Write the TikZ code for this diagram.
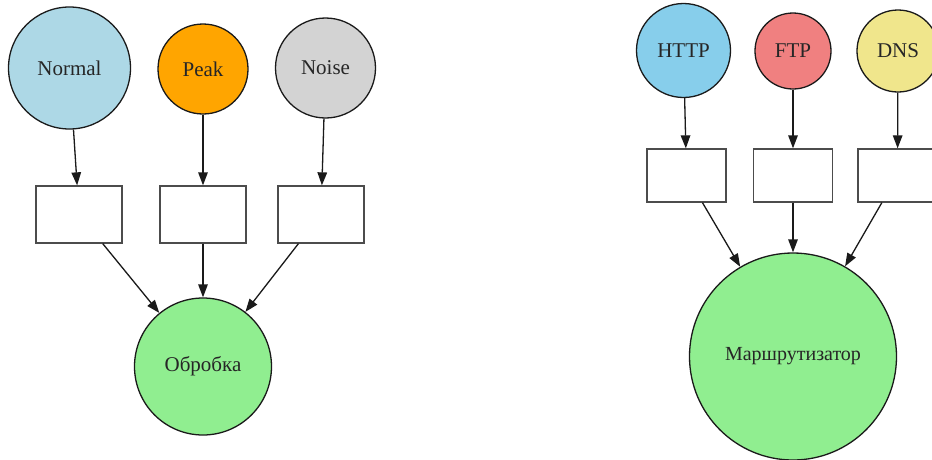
\documentclass[tikz,border=0pt]{standalone}
\usepackage{fontspec}
\setmainfont{Liberation Serif}
\usetikzlibrary{arrows.meta}

\definecolor{lightblueC}{HTML}{ADD8E6}
\definecolor{orangeC}{HTML}{FFA500}
\definecolor{lightgreyC}{HTML}{D3D3D3}
\definecolor{lightgreenC}{HTML}{90EE90}
\definecolor{skyblueC}{HTML}{87CEEB}
\definecolor{lightcoralC}{HTML}{F08080}
\definecolor{khakiC}{HTML}{F0E68C}
\definecolor{edgeC}{HTML}{1A1A1A}

\tikzset{
  circ/.style={circle, draw=edgeC, line width=1.3pt, inner sep=0pt,
               font=\fontsize{21}{21}\selectfont, text=black!85},
  emptybox/.style={rectangle, draw=black!70, line width=1.3pt, fill=white,
                   inner sep=0pt},
  flow/.style={-{Triangle[length=13pt,width=9.5pt]}, line width=1.3pt, draw=edgeC, fill=edgeC}
}

\begin{document}
\begin{tikzpicture}[x=1pt, y=-1pt]
  \useasboundingbox (0,0) rectangle (932,459);
  \clip (0,0) rectangle (932,459);

  % traffic sources feeding the processing node
  \node[circ, fill=lightblueC, minimum size=122pt] (normal) at (69.5,68) {Normal};
  \node[circ, fill=orangeC, minimum size=90pt] (peak) at (203,69) {Peak};
  \node[circ, fill=lightgreyC, minimum size=100pt] (noise) at (325.5,68) {Noise};

  \node[emptybox, minimum width=86pt, minimum height=57pt] (lb1) at (79,214.5) {};
  \node[emptybox, minimum width=86pt, minimum height=57pt] (lb2) at (203,214.5) {};
  \node[emptybox, minimum width=86pt, minimum height=57pt] (lb3) at (321,214.5) {};

  \node[circ, fill=lightgreenC, minimum size=137pt] (proc) at (203,366.5) {Обробка};

  \draw[flow] (normal) -- (lb1);
  \draw[flow] (peak) -- (lb2);
  \draw[flow] (noise) -- (lb3);
  \draw[flow] (lb1) -- (proc);
  \draw[flow] (lb2) -- (proc);
  \draw[flow] (lb3) -- (proc);

  % protocol sources feeding the router
  \node[circ, fill=skyblueC, minimum size=94pt] (http) at (683.5,50.5) {HTTP};
  \node[circ, fill=lightcoralC, minimum size=76pt] (ftp) at (793,51) {FTP};
  \node[circ, fill=khakiC, minimum size=82pt] (dns) at (898,51) {DNS};

  \node[emptybox, minimum width=79pt, minimum height=53pt] (rb1) at (686.5,175.5) {};
  \node[emptybox, minimum width=79pt, minimum height=53pt] (rb2) at (793,175.5) {};
  \node[emptybox, minimum width=79pt, minimum height=53pt] (rb3) at (897.5,175.5) {};

  \node[circ, fill=lightgreenC, minimum size=207pt,
        font=\fontsize{20}{20}\selectfont] (router) at (793,356.5) {Маршрутизатор};

  \draw[flow] (http) -- (rb1);
  \draw[flow] (ftp) -- (rb2);
  \draw[flow] (dns) -- (rb3);
  \draw[flow] (rb1) -- (router);
  \draw[flow] (rb2) -- (router);
  \draw[flow] (rb3) -- (router);
\end{tikzpicture}
\end{document}
